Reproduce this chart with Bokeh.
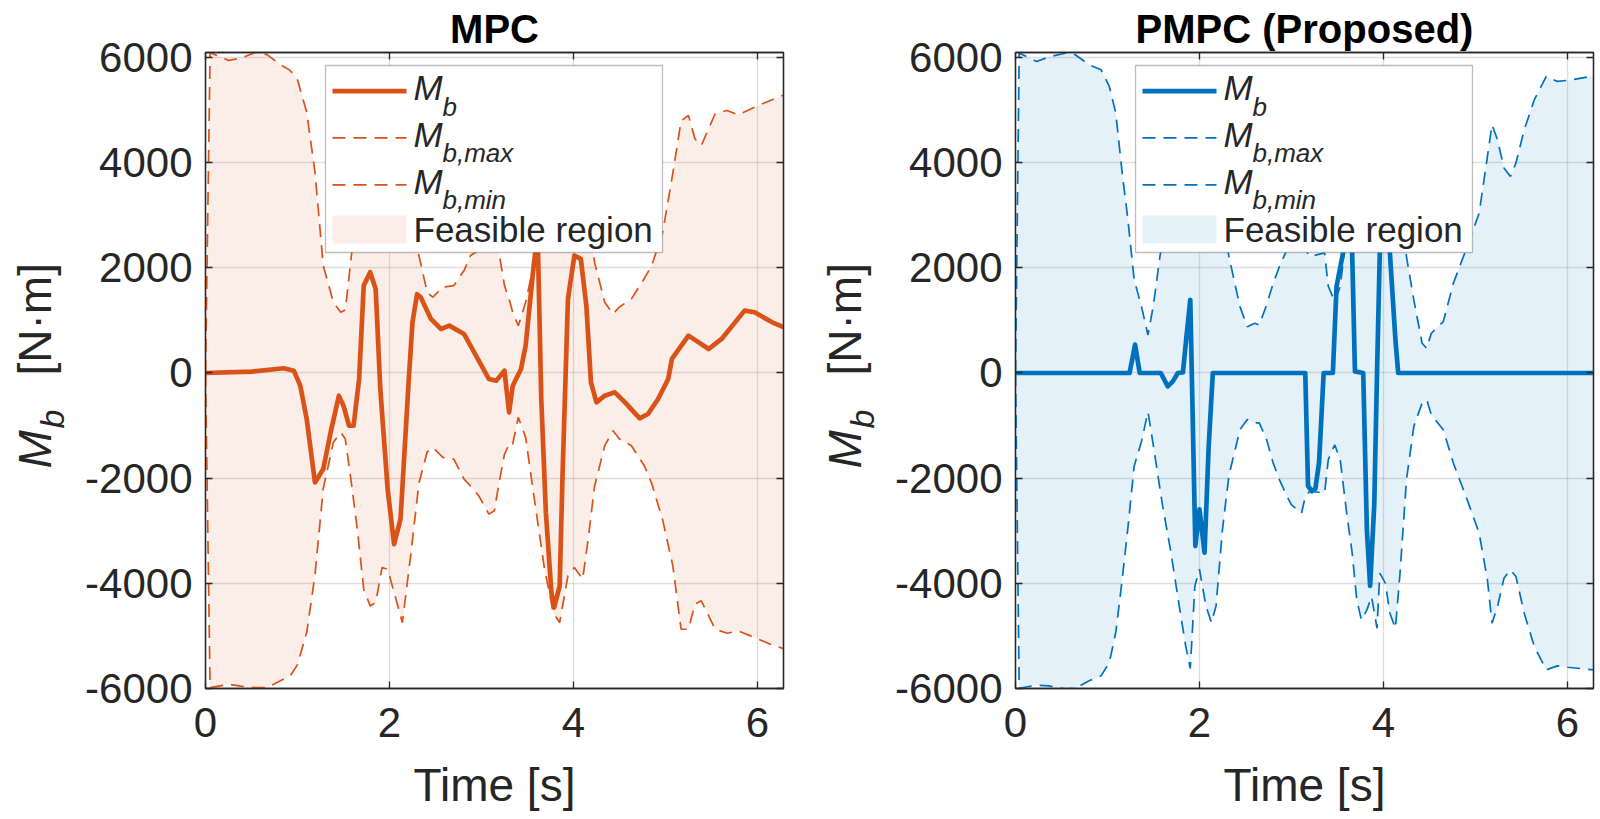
import numpy as np
from bokeh.plotting import figure
from bokeh.models import Range1d, FixedTicker, LinearAxis, BoxAnnotation, Label, Arrow, Title
from bokeh.layouts import row, column
from bokeh.embed import file_html
from bokeh.resources import INLINE

FONT = "Liberation Sans"
AX = "#262626"
ASC = 0.905  # font ascent (em) used to place text by its baseline with "top" anchoring

# ---------------- ticks / labels ----------------
x_ticks = [0, 2, 4, 6]
x_tick_labels = ["0", "2", "4", "6"]
y_ticks = [-6000, -4000, -2000, 0, 2000, 4000, 6000]
y_tick_labels = ["-6000", "-4000", "-2000", "0", "2000", "4000", "6000"]
titles = ["MPC", "PMPC (Proposed)"]
colors = ["#D95319", "#0072BD"]
x_label = "Time [s]"
y_label_parts = ["M", "b", "[N·m]"]
legend_main = ["M", "M", "M"]
legend_sub = ["b", "b,max", "b,min"]
legend_fill = "Feasible region"

# ---------------- MPC data ----------------
t_bound_mpc = [0.00, 0.05, 0.25, 0.38, 0.54, 0.67, 0.81, 0.92, 1.00, 1.10,
               1.19, 1.28, 1.39, 1.47, 1.52, 1.59, 1.65, 1.72, 1.79, 1.85,
               1.92, 1.98, 2.05, 2.14, 2.23, 2.32, 2.41, 2.47, 2.58, 2.70,
               2.81, 2.88, 2.97, 3.08, 3.14, 3.19, 3.25, 3.31, 3.34, 3.40,
               3.48, 3.55, 3.68, 3.78, 3.85, 3.94, 4.01, 4.10, 4.16, 4.23,
               4.34, 4.43, 4.50, 4.63, 4.77, 4.85, 4.97, 5.08, 5.17, 5.25,
               5.32, 5.39, 5.54, 5.67, 5.79, 5.97, 6.14, 6.29]
mb_max_mpc = [0, 6100, 5950, 5990, 6100, 6060, 5870, 5760, 5580, 4966,
              3823, 2044, 1347, 1156, 1200, 2299, 2972, 4115, 4433, 4369,
              3702, 3734, 4178, 4750, 3480, 2235, 1537, 1442, 1633, 1664,
              1950, 2235, 2337, 2686, 2623, 2299, 1664, 1347, 1150, 900,
              1347, 1918, 3671, 4559, 4750, 3861, 3702, 3924, 3162, 2100,
              1347, 1124, 1257, 1410, 1800, 2044, 2680, 3800, 4800, 4902,
              4458, 4330, 4934, 4997, 4915, 5061, 5187, 5296]
mb_min_mpc = [0, -5990, -5925, -5960, -5990, -5988, -5861, -5766, -5550, -4940,
              -3850, -2200, -1320, -1130, -1257, -2150, -2972, -4115, -4433, -4369,
              -3702, -3734, -4178, -4750, -3480, -2100, -1500, -1415, -1606, -1638,
              -2019, -2150, -2337, -2686, -2623, -2100, -1550, -1320, -1352, -844,
              -1225, -2100, -3671, -4559, -4750, -3861, -3702, -3924, -3162, -2150,
              -1384, -1099, -1257, -1384, -1765, -2100, -2800, -3671, -4877, -4877,
              -4400, -4337, -4877, -4953, -4909, -5035, -5162, -5250]
t_mb_mpc = [0.00, 0.50, 0.85, 0.96, 1.03, 1.10, 1.19, 1.28, 1.36, 1.45,
            1.50, 1.56, 1.61, 1.67, 1.72, 1.79, 1.85, 1.90, 1.98, 2.05,
            2.12, 2.21, 2.25, 2.30, 2.34, 2.45, 2.56, 2.65, 2.81, 2.96,
            3.08, 3.16, 3.25, 3.30, 3.34, 3.43, 3.48, 3.56, 3.61, 3.65,
            3.70, 3.76, 3.79, 3.85, 3.88, 3.94, 4.01, 4.08, 4.14, 4.19,
            4.25, 4.34, 4.45, 4.56, 4.72, 4.81, 4.92, 5.03, 5.07, 5.25,
            5.47, 5.61, 5.86, 5.97, 6.16, 6.29]
mb_mpc = [0, 25, 90, 44, -240, -876, -2083, -1829, -1130, -432,
          -623, -1004, -1004, -114, 1663, 1918, 1600, -300, -2210, -3258,
          -2781, -114, 965, 1500, 1442, 1030, 838, 902, 743, 267,
          -114, -147, 44, -749, -242, 76, 520, 1918, 2700, -495,
          -2654, -4178, -4464, -4051, -2019, 1410, 2235, 2172, 1282, -177,
          -558, -432, -368, -558, -864, -781, -495, -114, 267, 711,
          457, 648, 1187, 1156, 965, 870]

# ---------------- PMPC data ----------------
t_bound_pmpc = [0.00, 0.04, 0.23, 0.36, 0.55, 0.65, 0.80, 0.93, 1.02, 1.09,
                1.16, 1.22, 1.29, 1.37, 1.44, 1.50, 1.57, 1.60, 1.69, 1.78,
                1.85, 1.90, 1.95, 2.00, 2.07, 2.13, 2.18, 2.25, 2.32, 2.44,
                2.52, 2.60, 2.65, 2.73, 2.80, 2.87, 2.95, 3.00, 3.11, 3.15,
                3.20, 3.36, 3.40, 3.47, 3.53, 3.60, 3.66, 3.71, 3.76, 3.82,
                3.87, 3.93, 3.96, 4.02, 4.07, 4.13, 4.18, 4.25, 4.33, 4.42,
                4.47, 4.52, 4.65, 4.76, 4.91, 5.04, 5.13, 5.18, 5.24, 5.31,
                5.38, 5.44, 5.53, 5.64, 5.77, 5.89, 6.00, 6.28]
mb_max_pmpc = [0, 6090, 5930, 6014, 6090, 6058, 5867, 5772, 5454, 4947,
               3804, 2950, 1772, 1263, 724, 1300, 2216, 2534, 3420, 4434,
               5194, 5624, 4054, 3737, 4434, 4750, 4434, 2977, 2216, 1263,
               882, 946, 914, 1300, 1700, 2033, 2344, 2509, 2667, 2350,
               2216, 2286, 1651, 1358, 1651, 2667, 3429, 4318, 4700, 4509,
               4255, 4858, 3810, 4000, 4572, 4858, 3810, 2216, 1391, 566,
               470, 756, 978, 1709, 2406, 3042, 4121, 4724, 4439, 3900,
               3740, 3995, 4629, 5201, 5645, 5550, 5569, 5650]
mb_min_pmpc = [0, -6000, -5941, -5954, -6017, -6000, -5859, -5764, -5510, -4940,
               -3927, -2977, -1774, -1300, -741, -1395, -2200, -2534, -3420, -4434,
               -5194, -5624, -4054, -3737, -4434, -4750, -4434, -2977, -1950, -1077,
               -887, -950, -950, -1268, -1710, -2033, -2344, -2509, -2667, -2350,
               -2250, -2286, -1651, -1366, -1651, -2667, -3429, -4318, -4700, -4509,
               -4255, -4858, -3810, -4000, -4572, -4858, -3810, -2033, -1016, -572,
               -508, -794, -1080, -1715, -2413, -3048, -3937, -4763, -4445, -3905,
               -3747, -3874, -4572, -5207, -5651, -5575, -5600, -5650]
t_mb_pmpc = [0.00, 1.24, 1.30, 1.35, 1.58, 1.655, 1.71, 1.765, 1.82, 1.855,
             1.90, 1.955, 2.00, 2.055, 2.10, 2.145, 3.15, 3.18, 3.22, 3.26,
             3.30, 3.35, 3.45, 3.49, 3.56, 3.61, 3.66, 3.69, 3.78, 3.82,
             3.855, 3.90, 3.93, 3.96, 4.01, 4.07, 4.13, 4.16, 6.28]
mb_pmpc = [0, 0, 540, 0, 0, -254, -160, 0, 10, 633,
           1393, -3294, -2597, -3420, -1394, 0, 0, -2150, -2250, -2200,
           -1700, 0, 0, 1645, 2280, 3200, 2280, 30, 0, -3000,
           -4050, -2500, 0, 2280, 3200, 2280, 634, 0, 0]

# ---------------- geometry (px) ----------------
FRAME_W, FRAME_H = 578, 636
XLAB_H = 60
TOP_B, BOT_B = 52, 70
YLAB_W = [70, 70]
LEFT_B = [135, 132]
RIGHT_B = [30, 5]
TOTAL_W = sum(YLAB_W) + sum(LEFT_B) + 2 * FRAME_W + sum(RIGHT_B)
frame_left = [YLAB_W[0] + LEFT_B[0],
              YLAB_W[0] + LEFT_B[0] + FRAME_W + RIGHT_B[0] + YLAB_W[1] + LEFT_B[1]]


def style_axis(ax, ticks, labels, show_labels=True, standoff=13):
    ax.ticker = FixedTicker(ticks=ticks)
    ax.major_tick_in = 7
    ax.major_tick_out = 0
    ax.minor_tick_line_color = None
    ax.axis_line_color = AX
    ax.axis_line_width = 1.3
    ax.major_tick_line_color = AX
    ax.major_tick_line_width = 1.3
    if show_labels:
        ax.major_label_overrides = {tk: lb for tk, lb in zip(ticks, labels)}
        ax.major_label_text_font = FONT
        ax.major_label_text_font_size = "42px"
        ax.major_label_text_color = AX
        ax.major_label_standoff = standoff
    else:
        ax.major_label_text_font_size = "0px"
        ax.major_label_text_color = None
        ax.major_label_standoff = standoff


def blank(width, height):
    f = figure(width=width, height=height, x_range=Range1d(0, 1), y_range=Range1d(0, 1),
               x_axis_type=None, y_axis_type=None, output_backend="svg",
               toolbar_location=None, min_border=0, title=None)
    f.outline_line_color = None
    f.background_fill_color = "white"
    f.border_fill_color = "white"
    return f


def text_label(x, baseline, text, size, style="normal", color=AX, align="left", angle=0.0):
    # "top" anchoring is placed so that the alphabetic baseline lands at `baseline`
    if angle == 0.0:
        return Label(x=x, y=baseline + ASC * size, x_units="screen", y_units="screen",
                     text=text, text_font=FONT, text_font_size=f"{size}px",
                     text_font_style=style, text_color=color,
                     text_align=align, text_baseline="top")
    # rotated 90 deg: `x` is the baseline position, `baseline` is the start along the text
    return Label(x=x - ASC * size, y=baseline, x_units="screen", y_units="screen", angle=angle,
                 text=text, text_font=FONT, text_font_size=f"{size}px",
                 text_font_style=style, text_color=color,
                 text_align=align, text_baseline="top")


def panel(title, color, tb, bmax, bmin, tm, mb, b_left, b_right):
    p = figure(frame_width=FRAME_W, frame_height=FRAME_H,
               min_border_left=b_left, min_border_right=b_right,
               min_border_top=TOP_B, min_border_bottom=BOT_B,
               x_range=Range1d(0, 2 * np.pi), y_range=Range1d(-6005, 6100),
               output_backend="svg", toolbar_location=None, title=None)
    p.title = Title(text=title, align="center", vertical_align="top", standoff=0,
                    text_font=FONT, text_font_size="40px", text_font_style="bold",
                    text_color="black")
    p.background_fill_color = "white"
    p.border_fill_color = "white"
    p.outline_line_color = AX
    p.outline_line_width = 1.3

    style_axis(p.xaxis[0], x_ticks, x_tick_labels, standoff=19)
    style_axis(p.yaxis[0], y_ticks, y_tick_labels, standoff=13)

    # top / right axes: inward ticks only (box style)
    top_ax = LinearAxis()
    style_axis(top_ax, x_ticks, x_tick_labels, show_labels=False, standoff=0)
    p.add_layout(top_ax, "above")
    right_ax = LinearAxis()
    style_axis(right_ax, y_ticks, y_tick_labels, show_labels=False, standoff=0)
    p.add_layout(right_ax, "right")

    p.xgrid.ticker = FixedTicker(ticks=x_ticks)
    p.ygrid.ticker = FixedTicker(ticks=y_ticks)
    for g in (p.xgrid[0], p.ygrid[0]):
        g.grid_line_color = AX
        g.grid_line_alpha = 0.15
        g.grid_line_width = 1.3

    # data
    p.varea(x=tb, y1=bmin, y2=bmax, fill_color=color, fill_alpha=0.1)
    p.line(tb, bmax, line_color=color, line_width=1.7, line_dash="13 8")
    p.line(tb, bmin, line_color=color, line_width=1.7, line_dash="13 8")
    p.line(tm, mb, line_color=color, line_width=4.7, line_join="round")

    # legend (drawn by hand so the entries can use italic + subscript)
    p.add_layout(BoxAnnotation(left=120, right=457, top=623, bottom=436,
                               left_units="screen", right_units="screen",
                               top_units="screen", bottom_units="screen",
                               fill_color="white", fill_alpha=1.0,
                               line_color=AX, line_width=1.3))
    row_y = [597.3, 550.7, 503.7]
    main_y = [588.7, 542, 495]
    sub_y = [573, 527, 480]
    for i in range(3):
        if i == 0:
            kw = dict(line_width=4.7)
        else:
            kw = dict(line_width=1.7, line_dash="13 8")
        p.add_layout(Arrow(end=None, x_start=127, y_start=row_y[i], x_end=201, y_end=row_y[i],
                           start_units="screen", end_units="screen",
                           line_color=color, **kw))
        p.add_layout(text_label(208, main_y[i], legend_main[i], 35, style="italic"))
        p.add_layout(text_label(237, sub_y[i], legend_sub[i], 26, style="italic"))
    p.add_layout(BoxAnnotation(left=127, right=201, top=473, bottom=445,
                               left_units="screen", right_units="screen",
                               top_units="screen", bottom_units="screen",
                               fill_color=color, fill_alpha=0.1, line_color=None))
    p.add_layout(text_label(208, 447.3, legend_fill, 35))
    return p


def ylabel_fig(width, base_x):
    # frame of this figure is aligned with the neighbouring plot frame (same bottom)
    f = blank(width, TOP_B + FRAME_H + BOT_B)
    ang = np.pi / 2
    f.add_layout(text_label(base_x, 220, y_label_parts[0], 46, style="italic", angle=ang))
    f.add_layout(text_label(base_x + 13, 260, y_label_parts[1], 34, style="italic", angle=ang))
    f.add_layout(text_label(base_x, 313, y_label_parts[2], 46, angle=ang))
    return f


# x-label strip (baseline ~42 px below its top)
xlab_fig = blank(TOTAL_W, XLAB_H)
for i in range(2):
    xlab_fig.add_layout(text_label(frame_left[i] + FRAME_W / 2, XLAB_H - 42, x_label, 46,
                                   align="center"))

p1 = panel(titles[0], colors[0], t_bound_mpc, mb_max_mpc, mb_min_mpc, t_mb_mpc, mb_mpc,
           LEFT_B[0], RIGHT_B[0])
p2 = panel(titles[1], colors[1], t_bound_pmpc, mb_max_pmpc, mb_min_pmpc, t_mb_pmpc, mb_pmpc,
           LEFT_B[1], RIGHT_B[1])
yl1 = ylabel_fig(YLAB_W[0], 50)
yl2 = ylabel_fig(YLAB_W[1], 47)

layout = column(row(yl1, p1, yl2, p2), xlab_fig)
open("out.html", "w").write(file_html(layout, INLINE))
